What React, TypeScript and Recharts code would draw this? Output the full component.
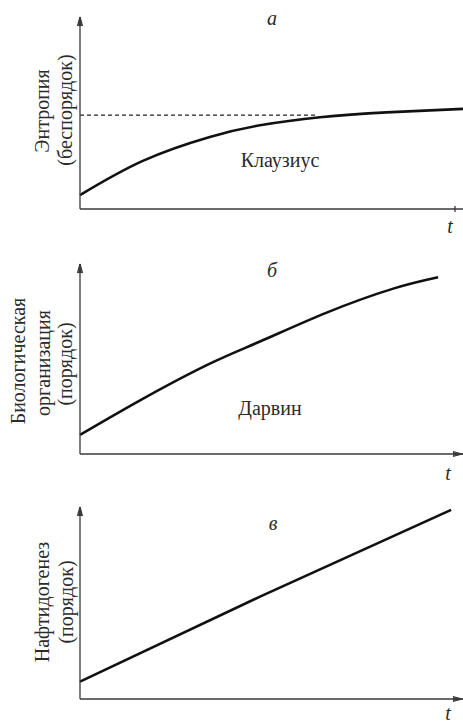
import React from 'react';
import { LineChart, Line, XAxis, YAxis, Customized } from 'recharts';

// Panel а — Клаузиус (entropy)
const clausiusT = [0, 16.4, 33.9, 47.0, 62.7, 80.0, 100];
const clausiusV = [7.3, 25.2, 37.7, 43.8, 48.0, 50.6, 52.4];
const limitT = [0, 62];
const limitV = [49.2, 49.2];
// Panel б — Дарвин
const darwinT = [0, 16.5, 33.9, 47.0, 64.4, 81.8, 93.5];
const darwinV = [10.1, 29.3, 47.8, 59.5, 74.8, 87.5, 93.5];
// Panel в — Нафтидогенез
const naftT = [0, 47.0, 96.9];
const naftV = [9.1, 53.6, 99.0];

const panelTitles = ['а', 'б', 'в'];
const curveLabels = ['Клаузиус', 'Дарвин', ''];
const yLabelsA = ['Энтропия', '(беспорядок)'];
const yLabelsB = ['Биологическая', 'организация', '(порядок)'];
const yLabelsC = ['Нафтидогенез', '(порядок)'];
const xLabel = 't';

const zip = (t: number[], v: number[]) => t.map((x, i) => ({ t: x, v: v[i] }));

const FONT = 'Liberation Serif';
const TXT = '#2b2b2b';
const AXIS = '#3a3a3a';
const W = 463;
const LEFT = 80;

// arrowhead built from short strokes (tip -> base spread)
const arrowUp = (x: number, y: number, k: string) => (
  <g key={k}>
    {[-2.5, -1.5, -0.5, 0.5, 1.5, 2.5].map((d, i) => (
      <line key={i} x1={x} y1={y} x2={x + d} y2={y + 9} stroke={AXIS} strokeWidth={1.2} />
    ))}
  </g>
);
const arrowRight = (x: number, y: number, k: string) => (
  <g key={k}>
    {[-2.5, -1.5, -0.5, 0.5, 1.5, 2.5].map((d, i) => (
      <line key={i} x1={x} y1={y} x2={x - 9} y2={y + d} stroke={AXIS} strokeWidth={1.2} />
    ))}
  </g>
);

type PanelProps = {
  height: number;
  top: number;
  bottom: number;
  children: React.ReactNode;
  arrowX: boolean;
  texts: React.ReactNode;
};

const Panel = ({ height, top, bottom, children, arrowX, texts }: PanelProps) => {
  const axisY = height - bottom;
  const decorations = (
    <g>
      {arrowUp(LEFT, top - 1, 'au')}
      {arrowX && arrowRight(W - 1, axisY, 'ar')}
      {!arrowX && <line x1={W - 8} x2={W - 8} y1={axisY - 3} y2={axisY + 3} stroke={AXIS} strokeWidth={1.3} />}
      {texts}
    </g>
  );
  return (
    <LineChart width={W} height={height} margin={{ top, right: 0, bottom: bottom - 2, left: LEFT - 2 }}>
      <XAxis
        dataKey="t"
        type="number"
        domain={[0, 100]}
        tick={false}
        tickLine={false}
        height={2}
        axisLine={{ stroke: AXIS, strokeWidth: 1.3 }}
      />
      <YAxis
        type="number"
        domain={[0, 100]}
        tick={false}
        tickLine={false}
        width={2}
        axisLine={{ stroke: AXIS, strokeWidth: 1.3 }}
      />
      {children}
      <Customized component={() => decorations} />
    </LineChart>
  );
};

const vText = (label: string, x: number, cy: number, key: string) => (
  <text
    key={key}
    x={x}
    y={cy}
    transform={`rotate(-90, ${x}, ${cy})`}
    textAnchor="middle"
    dominantBaseline="central"
    fontSize={20}
    fill={TXT}
    fontFamily={FONT}
  >
    {label}
  </text>
);

const plainText = (label: string, x: number, y: number, key: string, italic = false) => (
  <text key={key} x={x} y={y} textAnchor="middle" fontSize={20} fill={TXT} fontFamily={FONT} fontStyle={italic ? 'italic' : 'normal'}>
    {label}
  </text>
);

export default function App() {
  return (
    <div style={{ position: 'absolute', left: 0, top: 0, width: W, height: 723, background: '#fff', overflow: 'hidden' }}>
      <div style={{ position: 'absolute', left: 0, top: 0 }}>
        <Panel
          height={245}
          top={18}
          bottom={36}
          arrowX={false}
          texts={[
            plainText(panelTitles[0], 272, 25, 'ta', true),
            plainText(curveLabels[0], 280, 167, 'ca'),
            plainText(xLabel, 450, 233, 'xa', true),
            vText(yLabelsA[0], 42, 111, 'ya0'),
            vText(yLabelsA[1], 65, 110, 'ya1'),
          ]}
        >
          <Line
            data={zip(limitT, limitV)}
            dataKey="v"
            type="linear"
            stroke="#222"
            strokeWidth={1.3}
            strokeDasharray="4 3"
            dot={false}
            isAnimationActive={false}
          />
          <Line
            data={zip(clausiusT, clausiusV)}
            dataKey="v"
            type="natural"
            stroke="#111"
            strokeWidth={2.6}
            dot={false}
            isAnimationActive={false}
          />
        </Panel>
      </div>

      <div style={{ position: 'absolute', left: 0, top: 235 }}>
        <Panel
          height={250}
          top={30}
          bottom={31}
          arrowX={true}
          texts={[
            plainText(panelTitles[1], 272, 42, 'tb', true),
            plainText(curveLabels[1], 270, 180, 'cb'),
            plainText(xLabel, 448, 245, 'xb', true),
            vText(yLabelsB[0], 18, 126, 'yb0'),
            vText(yLabelsB[1], 43, 128, 'yb1'),
            vText(yLabelsB[2], 65, 129, 'yb2'),
          ]}
        >
          <Line
            data={zip(darwinT, darwinV)}
            dataKey="v"
            type="natural"
            stroke="#111"
            strokeWidth={2.6}
            dot={false}
            isAnimationActive={false}
          />
        </Panel>
      </div>

      <div style={{ position: 'absolute', left: 0, top: 480 }}>
        <Panel
          height={243}
          top={28}
          bottom={24}
          arrowX={true}
          texts={[
            plainText(panelTitles[2], 273, 50, 'tc', true),
            plainText(xLabel, 448, 240, 'xc', true),
            vText(yLabelsC[0], 42, 122, 'yc0'),
            vText(yLabelsC[1], 66, 122, 'yc1'),
          ]}
        >
          <Line
            data={zip(naftT, naftV)}
            dataKey="v"
            type="linear"
            stroke="#111"
            strokeWidth={2.6}
            dot={false}
            isAnimationActive={false}
          />
        </Panel>
      </div>
    </div>
  );
}
